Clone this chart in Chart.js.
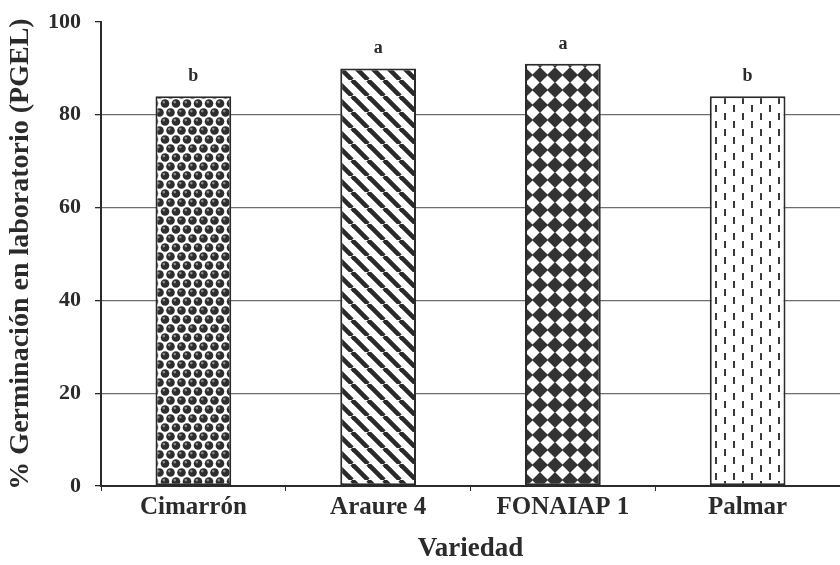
<!DOCTYPE html>
<html lang="es">
<head>
<meta charset="UTF-8">
<title>Germinación en laboratorio</title>
<script src="https://cdn.jsdelivr.net/npm/chart.js"></script>
<style>
  html, body { margin: 0; padding: 0; background: #ffffff; }
  #wrap { width: 840px; height: 565px; position: relative; }
</style>
</head>
<body>
<div id="wrap"><canvas id="pgel"></canvas></div>
<script>
const variedades = ['Cimarrón', 'Araure 4', 'FONAIAP 1', 'Palmar'];
const pgel = [84, 90, 91, 84];
const letras = ['b', 'a', 'a', 'b'];
const yTicks = [0, 20, 40, 60, 80, 100];

const INK = '#2b2b2b';
const SERIF = '"Liberation Serif", "DejaVu Serif", serif';

function tile(w, h, draw) {
  const c = document.createElement('canvas');
  c.width = w; c.height = h;
  const g = c.getContext('2d');
  draw(g, w, h);
  return document.createElement('canvas').getContext('2d').createPattern(c, 'repeat');
}

// dark spheres on offset rows
const esferas = tile(11, 18, (g, w, h) => {
  g.fillStyle = '#ffffff'; g.fillRect(0, 0, w, h);
  const bola = (x, y) => {
    g.fillStyle = '#2e2e2e';
    g.beginPath(); g.arc(x, y, 4.3, 0, Math.PI * 2); g.fill();
    g.fillStyle = '#8a8a8a';
    g.beginPath(); g.arc(x - 1.2, y - 1.4, 1.3, 0, Math.PI * 2); g.fill();
  };
  [[5.5, 4.5], [0, 13.5], [11, 13.5], [5.5, 22.5], [0, -4.5], [11, -4.5]].forEach(p => bola(p[0], p[1]));
});

// diagonal stripes "\"
const rayas = tile(16, 16, (g, w, h) => {
  g.fillStyle = '#ffffff'; g.fillRect(0, 0, w, h);
  g.strokeStyle = '#2a2a2a'; g.lineWidth = 4.6;
  [-16, 0, 16].forEach(o => {
    g.beginPath(); g.moveTo(o, 0); g.lineTo(o + 16, 16); g.stroke();
  });
});

// rotated checkerboard: dark diamonds on the corners, white one in the middle
const rombos = tile(15, 15, (g, w, h) => {
  g.fillStyle = '#333333'; g.fillRect(0, 0, w, h);
  g.fillStyle = '#ffffff';
  const m = w / 2;
  g.beginPath();
  g.moveTo(m, 0.4); g.lineTo(w - 0.4, m); g.lineTo(m, h - 0.4); g.lineTo(0.4, m);
  g.closePath(); g.fill();
});

// short vertical dashes
const trazos = tile(18, 16, (g, w, h) => {
  g.fillStyle = '#ffffff'; g.fillRect(0, 0, w, h);
  g.fillStyle = '#3a3a3a';
  g.fillRect(4, 1, 2, 7);
  g.fillRect(13, 9, 2, 7);
});

const rellenos = [esferas, rayas, rombos, trazos];

// significance letters above each bar
const letrasPlugin = {
  id: 'letras',
  afterDatasetsDraw(chart) {
    const ctx = chart.ctx;
    const meta = chart.getDatasetMeta(0);
    ctx.save();
    ctx.font = 'bold 18px ' + SERIF;
    ctx.fillStyle = INK;
    ctx.textAlign = 'center';
    ctx.textBaseline = 'alphabetic';
    meta.data.forEach((bar, i) => {
      ctx.fillText(letras[i], bar.x, bar.y - 15);
    });
    ctx.restore();
  }
};

new Chart(document.getElementById('pgel'), {
  type: 'bar',
  data: {
    labels: variedades,
    datasets: [{
      data: pgel,
      backgroundColor: rellenos,
      borderColor: INK,
      borderWidth: 2,
      borderSkipped: false,
      barPercentage: 0.41,
      categoryPercentage: 1
    }]
  },
  options: {
    responsive: true,
    maintainAspectRatio: false,
    animation: false,
    layout: { padding: { top: 22, right: 0, left: 0, bottom: 0 } },
    plugins: {
      legend: { display: false },
      tooltip: { enabled: false }
    },
    scales: {
      x: {
        offset: true,
        grid: {
          offset: true,
          drawOnChartArea: false,
          drawTicks: true,
          tickLength: 5,
          color: INK
        },
        border: { color: INK, width: 2 },
        ticks: {
          color: INK,
          font: { family: SERIF, size: 25, weight: 'bold' },
          padding: 2
        },
        title: {
          display: true,
          text: 'Variedad',
          color: INK,
          font: { family: SERIF, size: 27, weight: 'bold' },
          padding: { top: 0, bottom: 0 }
        },
        afterFit(scale) { scale.height = 79; }
      },
      y: {
        min: 0,
        max: 100,
        afterBuildTicks(scale) { scale.ticks = yTicks.map(v => ({ value: v })); },
        grid: {
          color: ctx => (ctx.tick && (ctx.tick.value === 0 || ctx.tick.value === 100)) ? 'rgba(0,0,0,0)' : '#6e6e6e',
          tickColor: INK,
          lineWidth: 1.3,
          tickLength: 6
        },
        border: { color: INK, width: 2 },
        ticks: {
          color: INK,
          font: { family: SERIF, size: 22, weight: 'bold' },
          padding: 14
        },
        title: {
          display: true,
          text: '% Germinación en laboratorio (PGEL)',
          color: INK,
          font: { family: SERIF, size: 28, weight: 'bold' },
          padding: { top: 4, bottom: 0 }
        },
        afterFit(scale) {
          scale.width = 101;
          scale.paddingTop = 0;
          scale.paddingBottom = 0;
        }
      }
    }
  },
  plugins: [letrasPlugin]
});
</script>
</body>
</html>
